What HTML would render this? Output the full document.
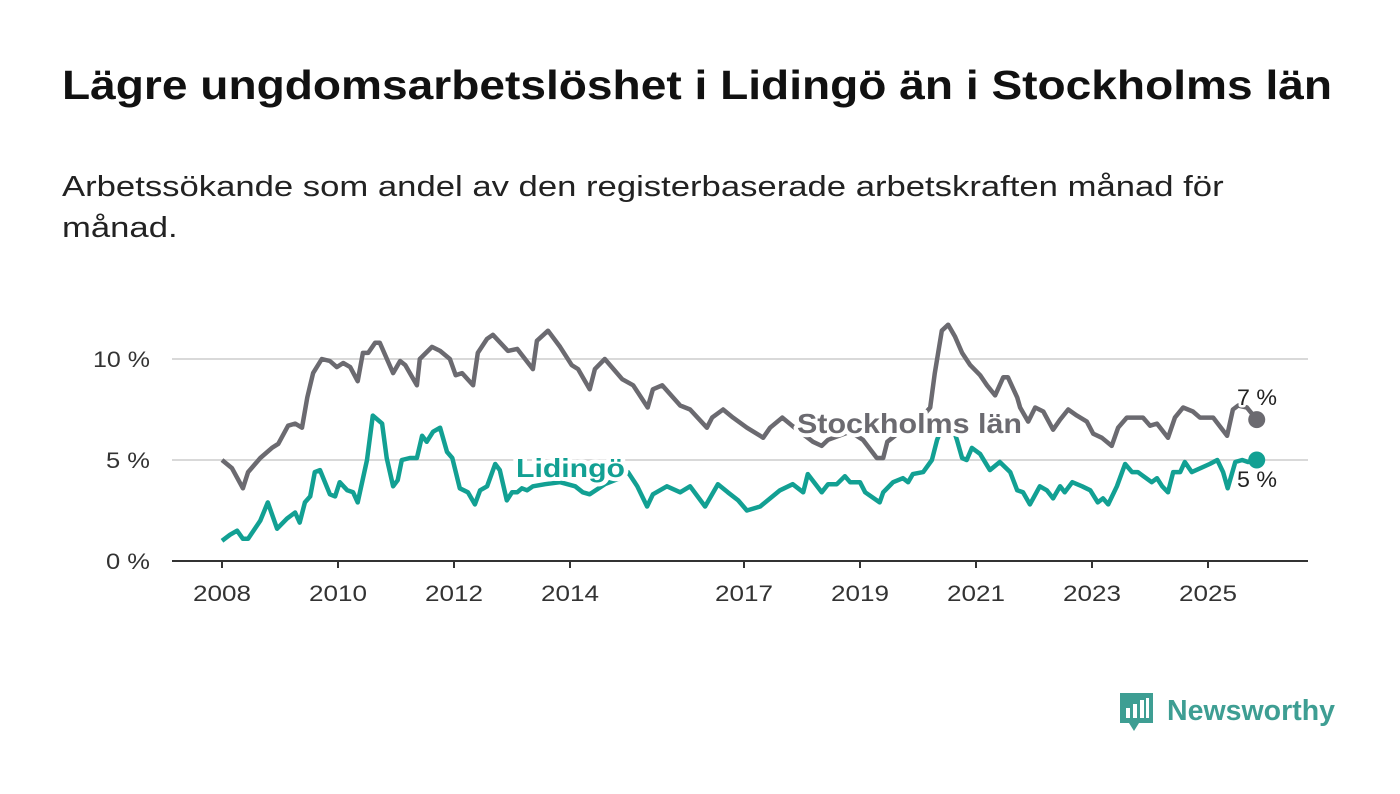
<!DOCTYPE html>
<html><head><meta charset="utf-8"><style>
body{margin:0;background:#fff;width:1400px;height:794px;overflow:hidden;font-family:"Liberation Sans","DejaVu Sans",sans-serif}
h1{position:absolute;left:62px;top:62px;margin:0;font-size:41px;font-weight:bold;color:#111;white-space:nowrap;transform:scaleX(1.124);transform-origin:0 0}
p{position:absolute;left:62px;top:167px;margin:0;font-size:29px;line-height:41px;color:#222;white-space:nowrap;transform:scaleX(1.195);transform-origin:0 0}
svg{position:absolute;left:0;top:0}
</style></head><body>
<h1>Lägre ungdomsarbetslöshet i Lidingö än i Stockholms län</h1>
<p>Arbetssökande som andel av den registerbaserade arbetskraften månad för<br>månad.</p>
<svg id="chart" width="1400" height="794"></svg>
<script>
const yearsSince2008Sthlm=[0,.17,.36,.45,.66,.86,.97,1.14,1.26,1.38,1.47,1.57,1.72,1.86,1.98,2.09,2.21,2.34,2.43,2.52,2.64,2.72,2.95,3.07,3.16,3.36,3.41,3.62,3.76,3.93,4.03,4.14,4.33,4.41,4.57,4.67,4.93,5.09,5.36,5.43,5.62,5.83,6.03,6.14,6.34,6.43,6.60,6.90,7.09,7.34,7.43,7.59,7.90,8.07,8.36,8.45,8.64,8.81,9.05,9.28,9.33,9.45,9.66,9.83,10.19,10.34,10.45,10.83,11.05,11.29,11.40,11.47,11.78,12.03,12.21,12.29,12.41,12.52,12.64,12.76,12.90,13.07,13.19,13.33,13.47,13.55,13.71,13.76,13.90,14.02,14.16,14.33,14.45,14.59,14.74,14.91,15.02,15.17,15.34,15.45,15.60,15.88,16.00,16.12,16.31,16.43,16.57,16.74,16.86,17.09,17.33,17.43,17.52,17.67,17.84];
const valuesSthlm=[5.0,4.6,3.6,4.4,5.1,5.6,5.8,6.7,6.8,6.6,8.1,9.3,10.0,9.9,9.6,9.8,9.6,8.9,10.3,10.3,10.8,10.8,9.3,9.9,9.7,8.7,10.0,10.6,10.4,10.0,9.2,9.3,8.7,10.3,11.0,11.2,10.4,10.5,9.5,10.9,11.4,10.6,9.7,9.5,8.5,9.5,10.0,9.0,8.7,7.6,8.5,8.7,7.7,7.5,6.6,7.1,7.5,7.1,6.6,6.2,6.1,6.6,7.1,6.7,5.9,5.7,6.0,6.4,6.0,5.1,5.1,5.9,6.6,7.0,7.6,9.3,11.4,11.7,11.1,10.3,9.7,9.2,8.7,8.2,9.1,9.1,8.1,7.6,6.9,7.6,7.4,6.5,7.0,7.5,7.2,6.9,6.3,6.1,5.7,6.6,7.1,7.1,6.7,6.8,6.1,7.1,7.6,7.4,7.1,7.1,6.2,7.5,7.7,7.6,7.0];
const yearsSince2008Lid=[0,.14,.26,.36,.45,.66,.79,.95,1.12,1.26,1.34,1.43,1.52,1.60,1.69,1.86,1.95,2.03,2.16,2.26,2.34,2.50,2.60,2.76,2.84,2.95,3.03,3.10,3.24,3.36,3.45,3.53,3.64,3.76,3.88,3.97,4.10,4.24,4.36,4.45,4.57,4.71,4.79,4.91,5.00,5.09,5.17,5.26,5.36,5.57,5.83,6.09,6.22,6.34,6.60,6.86,7.00,7.16,7.33,7.43,7.67,7.90,8.07,8.33,8.55,8.72,8.90,9.05,9.28,9.45,9.62,9.84,10.02,10.10,10.34,10.45,10.60,10.74,10.83,11.00,11.09,11.34,11.40,11.57,11.74,11.83,11.91,12.09,12.24,12.33,12.47,12.59,12.67,12.76,12.84,12.93,13.07,13.24,13.41,13.59,13.71,13.81,13.93,14.10,14.22,14.33,14.45,14.53,14.66,14.83,14.97,15.10,15.19,15.28,15.43,15.57,15.69,15.79,16.03,16.12,16.21,16.31,16.40,16.52,16.60,16.72,17.03,17.16,17.26,17.34,17.47,17.59,17.69,17.84];
const valuesLid=[1.0,1.3,1.5,1.1,1.1,2.0,2.9,1.6,2.1,2.4,1.9,2.9,3.2,4.4,4.5,3.3,3.2,3.9,3.5,3.4,2.9,5.0,7.2,6.8,5.1,3.7,4.0,5.0,5.1,5.1,6.2,5.9,6.4,6.6,5.4,5.1,3.6,3.4,2.8,3.5,3.7,4.8,4.5,3.0,3.4,3.4,3.6,3.5,3.7,3.8,3.9,3.7,3.4,3.3,3.8,4.1,4.4,3.7,2.7,3.3,3.7,3.4,3.7,2.7,3.8,3.4,3.0,2.5,2.7,3.1,3.5,3.8,3.4,4.3,3.4,3.8,3.8,4.2,3.9,3.9,3.4,2.9,3.4,3.9,4.1,3.9,4.3,4.4,5.0,6.0,7.0,6.7,6.0,5.1,5.0,5.6,5.3,4.5,4.9,4.4,3.5,3.4,2.8,3.7,3.5,3.1,3.7,3.4,3.9,3.7,3.5,2.9,3.1,2.8,3.7,4.8,4.4,4.4,3.9,4.1,3.7,3.4,4.4,4.4,4.9,4.4,4.8,5.0,4.4,3.6,4.9,5.0,4.9,5.0];
const yTicks=[0,5,10];
const yTickLabels=["0 %","5 %","10 %"];
const xTicks=[2008,2010,2012,2014,2017,2019,2021,2023,2025];

const NS="http://www.w3.org/2000/svg";
const svg=document.getElementById('chart');
const X=yr=>222+(yr-2008)*58;
const Y=v=>561-v*20.2;
function mk(tag,attrs,parent){const e=document.createElementNS(NS,tag);for(const k in attrs)e.setAttribute(k,attrs[k]);(parent||svg).appendChild(e);return e;}

yTicks.forEach((t,i)=>{
  if(t>0){const g=mk('line',{x1:172,x2:1308,y1:Y(t),y2:Y(t),stroke:'#d9d9d9','stroke-width':2});
  
  }
  const l=mk('text',{x:150,y:Y(t)+8,'text-anchor':'end','font-size':22,fill:'#333',textLength:yTickLabels[i].length>3?57:44,lengthAdjust:'spacingAndGlyphs'});
  l.textContent=yTickLabels[i];
  
  
});
const ax=mk('line',{x1:172,x2:1308,y1:561,y2:561,stroke:'#333','stroke-width':2});


xTicks.forEach(t=>{
  const tk=mk('line',{x1:X(t),x2:X(t),y1:561,y2:568,stroke:'#333','stroke-width':2});
  
  
  const l=mk('text',{x:X(t)-29,y:601,'font-size':22,fill:'#333',textLength:58,lengthAdjust:'spacingAndGlyphs'});
  l.textContent=t;
  
  
});
function line(xs,vs,color,name){
  const d=xs.map((x,i)=>(i?'L':'M')+X(2008+x).toFixed(1)+','+Y(vs[i]).toFixed(1)).join('');
  const p=mk('path',{d:d,fill:'none',stroke:color,'stroke-width':4.5,'stroke-linejoin':'round'});
  
  
  const n=xs.length-1;
  const c=mk('circle',{cx:X(2008+xs[n]),cy:Y(vs[n]),r:8.5,fill:color});
  
  
}
line(yearsSince2008Sthlm,valuesSthlm,'#6b6a70','stockholm-line');
line(yearsSince2008Lid,valuesLid,'#12a093','lidingo-line');
function label(txt,x,y,size,color,bold,name,len){
  const t=mk('text',{x:x,y:y,'font-size':size,fill:color,'font-weight':bold?'bold':'normal',stroke:'#fff','stroke-width':bold?8:5,'paint-order':'stroke','stroke-linejoin':'round',textLength:len,lengthAdjust:'spacingAndGlyphs'});
  t.textContent=txt;
  
  
}
label('Stockholms län',797,433,28,'#6b6a70',true,'stockholm-label',225);
label('Lidingö',516,477,26,'#12a093',true,'lidingo-label',109);
label('7 %',1237,405,22,'#222',false,'stockholm-end-value',40);
label('5 %',1237,487,22,'#222',false,'lidingo-end-value',40);

const lg=mk('g',{});


mk('path',{d:'M1120,693h33v30h-14l-5,8l-5,-8h-9z',fill:'#3e9e93'},lg);
mk('rect',{x:1126,y:708,width:4,height:10,fill:'#fff'},lg);
mk('rect',{x:1133,y:704,width:4,height:14,fill:'#fff'},lg);
mk('rect',{x:1140,y:700,width:4,height:18,fill:'#fff'},lg);
mk('rect',{x:1146,y:698,width:3,height:20,fill:'#fff'},lg);
const lt=mk('text',{x:1167,y:720,'font-size':29,fill:'#3e9e93','font-weight':'bold',textLength:168,lengthAdjust:'spacingAndGlyphs'},lg);
lt.textContent='Newsworthy';
</script>
</body></html>
